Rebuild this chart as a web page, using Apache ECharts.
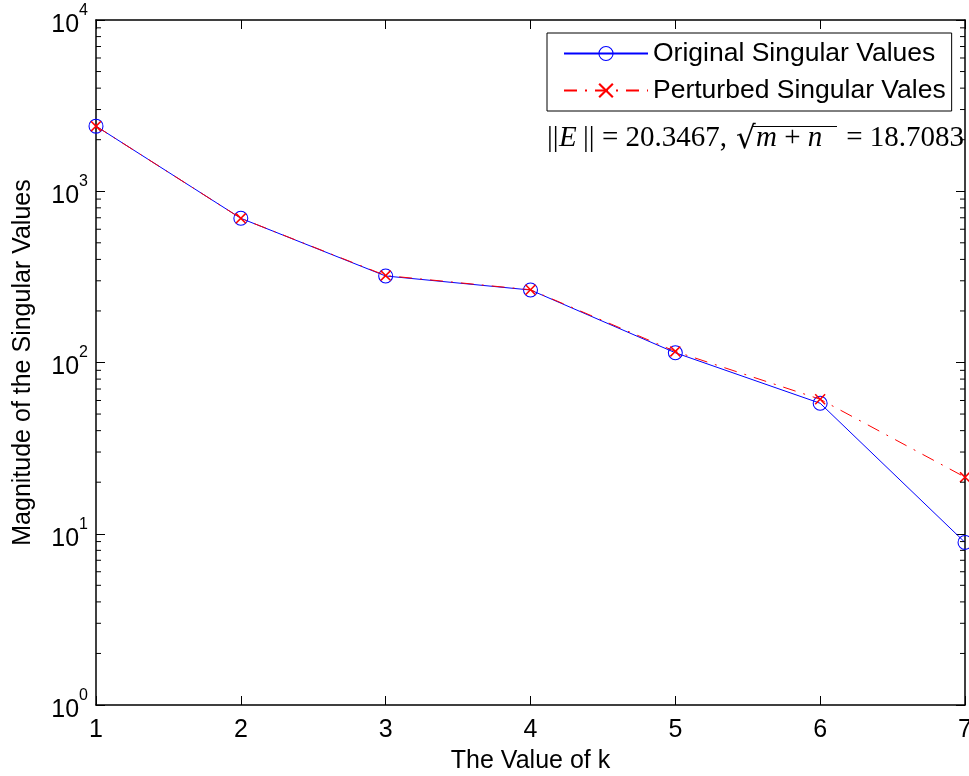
<!DOCTYPE html>
<html>
<head>
<meta charset="utf-8">
<script src="https://cdn.jsdelivr.net/npm/echarts@6/dist/echarts.min.js"></script>
<style>
html,body{margin:0;padding:0;background:#fff;}
#chart{width:969px;height:776px;}
</style>
</head>
<body>
<div id="chart"></div>
<script>
// ---- data ----
const kValues = [1, 2, 3, 4, 5, 6, 7];
const originalSV = [2400, 695, 320, 265, 114, 57.8, 8.9];
const perturbedSV = [2400, 695, 322, 266, 116, 61, 21.4];
const seriesNames = ['Original Singular Values', 'Perturbed Singular Vales'];
const xTitle = 'The Value of k';
const yTitle = 'Magnitude of the Singular Values';
const yMin = 1, yMax = 10000;
const xMin = 1, xMax = 7;

// minor tick positions for the log axis (2..9 x 10^e)
const minorTicks = [];
for (let e = 0; e < 4; e++) for (let m = 2; m <= 9; m++) minorTicks.push(m * Math.pow(10, e));

const FONT = '"Liberation Sans", Arial, Helvetica, sans-serif';
const SERIF = '"Liberation Serif", "DejaVu Serif", serif';
const ANN = '29px ' + SERIF;
const ANN_I = 'italic 29px ' + SERIF;

const RING = 'path://M0,50 A50,50 0 1,1 100,50 A50,50 0 1,1 0,50 Z M7,50 A43,43 0 1,0 93,50 A43,43 0 1,0 7,50 Z';
const CROSS = 'path://M0,1 L1,0 L5,4 L9,0 L10,1 L6,5 L10,9 L9,10 L5,6 L1,10 L0,9 L4,5 Z';

const chart = echarts.init(document.getElementById('chart'), null, {renderer: 'canvas'});

const axisLineStyle = {color: '#000', width: 1.5};
const tickStyle = {color: '#000', width: 1};

const option = {
  backgroundColor: '#fff',
  animation: false,
  grid: {left: 96, right: 4, top: 20, bottom: 71, containLabel: false, outerBoundsMode: 'none'},
  xAxis: [
    {
      type: 'value', min: xMin, max: xMax, interval: 1, position: 'bottom',
      axisLine: {show: true, onZero: false, lineStyle: axisLineStyle},
      axisTick: {show: true, inside: true, length: 9, lineStyle: tickStyle},
      axisLabel: {show: true, fontSize: 25, color: '#000', fontFamily: FONT, margin: 13},
      splitLine: {show: false},
      name: xTitle, nameLocation: 'middle', nameGap: 44,
      nameTextStyle: {fontSize: 25, color: '#000', fontFamily: FONT}
    },
    {
      type: 'value', min: xMin, max: xMax, interval: 1, position: 'top',
      axisLine: {show: true, onZero: false, lineStyle: axisLineStyle},
      axisTick: {show: true, inside: true, length: 9, lineStyle: tickStyle},
      axisLabel: {show: false}, splitLine: {show: false}
    }
  ],
  yAxis: [
    {
      type: 'log', logBase: 10, min: yMin, max: yMax, position: 'left',
      axisLine: {show: true, onZero: false, lineStyle: axisLineStyle},
      axisTick: {show: true, inside: true, length: 9, lineStyle: tickStyle},
      axisLabel: {
        show: true, margin: 8, color: '#000', fontFamily: FONT,
        formatter: function (v) {
          const e = Math.round(Math.log10(v));
          return '{b|10}{s|' + e + '}';
        },
        rich: {
          b: {fontSize: 25, fontFamily: FONT, color: '#000', padding: [10, 0, 0, 0]},
          s: {fontSize: 16, fontFamily: FONT, color: '#000', verticalAlign: 'top'}
        }
      },
      splitLine: {show: false},
      name: yTitle, nameLocation: 'middle', nameGap: 60,
      nameTextStyle: {fontSize: 25, color: '#000', fontFamily: FONT}
    },
    {
      type: 'log', logBase: 10, min: yMin, max: yMax, position: 'right',
      axisLine: {show: true, onZero: false, lineStyle: axisLineStyle},
      axisTick: {show: true, inside: true, length: 9, lineStyle: tickStyle},
      axisLabel: {show: false}, splitLine: {show: false}
    }
  ],
  legend: {
    data: seriesNames,
    orient: 'vertical',
    left: 547, top: 33,
    itemWidth: 84, itemHeight: 19, itemGap: 10,
    padding: [7, 6, 7, 16],
    borderColor: '#000', borderWidth: 1, borderRadius: 0,
    backgroundColor: '#fff',
    textStyle: {fontSize: 26.5, color: '#000', fontFamily: FONT}
  },
  series: [
    {
      name: seriesNames[0], type: 'line',
      data: kValues.map((k, i) => [k, originalSV[i]]),
      symbol: RING, symbolSize: 15,
      itemStyle: {color: '#0000ff', borderWidth: 0},
      lineStyle: {color: '#0000ff', width: 1},
      clip: false, z: 3
    },
    {
      name: seriesNames[1], type: 'line',
      data: kValues.map((k, i) => [k, perturbedSV[i]]),
      symbol: CROSS,
      symbolSize: 11,
      itemStyle: {color: '#ff0000', borderWidth: 0},
      lineStyle: {color: '#ff0000', width: 1, type: [13, 8, 2, 8]},
      clip: false, z: 4
    },
    {
      name: 'minorTicks', type: 'custom', silent: true, clip: false, z: 5,
      data: minorTicks.map(v => [xMin, v]),
      encode: {x: 0, y: 1},
      renderItem: function (params, api) {
        const v = api.value(1);
        const pl = api.coord([xMin, v]);
        const pr = api.coord([xMax, v]);
        return {
          type: 'group',
          children: [
            {type: 'line', shape: {x1: pl[0], y1: pl[1], x2: pl[0] + 5, y2: pl[1]}, style: {stroke: '#000', lineWidth: 1}},
            {type: 'line', shape: {x1: pr[0] - 5, y1: pr[1], x2: pr[0], y2: pr[1]}, style: {stroke: '#000', lineWidth: 1}}
          ]
        };
      }
    }
  ],
  graphic: [
    {type: 'text', x: 547, y: 138, silent: true, z: 100, style: {text: '||', font: ANN, fill: '#000', verticalAlign: 'middle'}},
    {type: 'text', x: 559, y: 138, silent: true, z: 100, style: {text: 'E', font: ANN_I, fill: '#000', verticalAlign: 'middle'}},
    {type: 'text', x: 583, y: 138, silent: true, z: 100, style: {text: '||', font: ANN, fill: '#000', verticalAlign: 'middle'}},
    {type: 'text', x: 602, y: 138, silent: true, z: 100, style: {text: '= 20.3467,', font: ANN, fill: '#000', verticalAlign: 'middle'}},
    {type: 'text', x: 736, y: 140, silent: true, z: 100, style: {text: '√', font: '31px "DejaVu Serif", serif', fill: '#000', verticalAlign: 'middle'}},
    {type: 'line', silent: true, z: 100, shape: {x1: 753, y1: 126.5, x2: 837, y2: 126.5}, style: {stroke: '#000', lineWidth: 1.2}},
    {type: 'text', x: 756, y: 138, silent: true, z: 100, style: {
      text: '{i|m}{r| + }{i|n}', fill: '#000', verticalAlign: 'middle',
      rich: {i: {font: ANN_I, fill: '#000'}, r: {font: ANN, fill: '#000'}}
    }},
    {type: 'text', x: 964, y: 138, silent: true, z: 100, style: {text: '= 18.7083', font: ANN, fill: '#000', verticalAlign: 'middle', align: 'right'}}
  ]
};
chart.setOption(option);
</script>
</body>
</html>
